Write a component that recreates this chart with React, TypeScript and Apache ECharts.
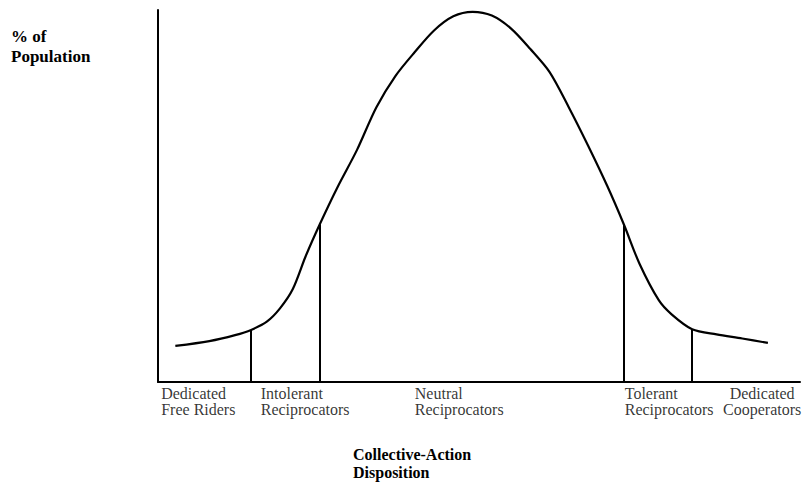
import React, { useEffect, useRef } from "react";
import * as echarts from "echarts";

// Disposition scale (0-100) and % of population (0-100)
const curveX = [2.7, 8, 12, 14.5, 17, 19, 21, 23, 25.2, 28, 31, 34, 37, 40, 43, 46, 49, 52, 55, 58, 61, 64, 67, 70, 72.6, 75, 78, 80, 83.2, 87, 91, 95];
const curveY = [9.7, 11.0, 12.6, 14.0, 16.3, 19.8, 25.0, 33.8, 42.4, 52.5, 62.4, 73.8, 82.3, 88.7, 94.5, 98.3, 99.5, 98.5, 95.0, 89.5, 83.3, 73.8, 63.5, 52.6, 42.2, 31.8, 22.0, 18.2, 14.2, 12.8, 11.7, 10.5];

const dividerX = [14.5, 25.2, 72.6, 83.2];
const dividerY = [14.0, 42.4, 42.2, 14.2];

const categories = [
  "Dedicated\nFree Riders",
  "Intolerant\nReciprocators",
  "Neutral\nReciprocators",
  "Tolerant\nReciprocators",
  "Dedicated\nCooperators",
];
const categoryAnchorX = [0.5, 16.0, 40.0, 72.7, 94.1];
const categoryAlign = ["left", "left", "left", "left", "center"];

const yTitle = "% of\nPopulation";
const xTitle = "Collective-Action\nDisposition";

export default function App() {
  const ref = useRef<HTMLDivElement>(null);
  useEffect(() => {
    if (!ref.current) return;
    const chart = echarts.init(ref.current, null, { renderer: "svg" });
    const font = "Liberation Serif";
    chart.setOption({
      animation: false,
      backgroundColor: "#fff",
      grid: { left: 158, right: 3, top: 10, bottom: 102, containLabel: false },
      xAxis: {
        type: "value",
        min: 0,
        max: 100,
        axisLine: { show: true, onZero: false, lineStyle: { color: "#000", width: 2 } },
        axisTick: { show: false },
        axisLabel: { show: false },
        splitLine: { show: false },
      },
      yAxis: {
        type: "value",
        min: 0,
        max: 100,
        axisLine: { show: true, lineStyle: { color: "#000", width: 2 } },
        axisTick: { show: false },
        axisLabel: { show: false },
        splitLine: { show: false },
      },
      graphic: [
        {
          type: "text",
          left: 11,
          top: 26,
          style: {
            text: yTitle,
            fontFamily: font,
            fontWeight: "bold",
            fontSize: 17,
            lineHeight: 20,
            fill: "#000",
          },
        },
        {
          type: "text",
          left: 353,
          top: 445,
          style: {
            text: xTitle,
            fontFamily: font,
            fontWeight: "bold",
            fontSize: 16,
            lineHeight: 18,
            fill: "#000",
          },
        },
      ],
      series: [
        {
          type: "line",
          smooth: 0.3,
          showSymbol: false,
          data: curveX.map((x, i) => [x, curveY[i]]),
          lineStyle: { color: "#000", width: 2.2 },
          markLine: {
            silent: true,
            symbol: ["none", "none"],
            label: { show: false },
            lineStyle: { color: "#000", width: 2, type: "solid" },
            data: dividerX.map((x, i) => [
              { coord: [x, 0] },
              { coord: [x, dividerY[i]] },
            ]),
          },
        },
        {
          type: "scatter",
          symbolSize: 0,
          silent: true,
          clip: false,
          data: categories.map((c, i) => ({
            value: [categoryAnchorX[i], 0],
            label: {
              show: true,
              formatter: c,
              position: [0, 3],
              align: categoryAlign[i],
              verticalAlign: "top",
              fontFamily: font,
              fontSize: 16,
              lineHeight: 16,
              color: "#000",
            },
          })),
        },
      ],
    });
    return () => chart.dispose();
  }, []);
  return (
    <div
      ref={ref}
      style={{ position: "absolute", left: 0, top: 0, width: 803, height: 484 }}
    />
  );
}
